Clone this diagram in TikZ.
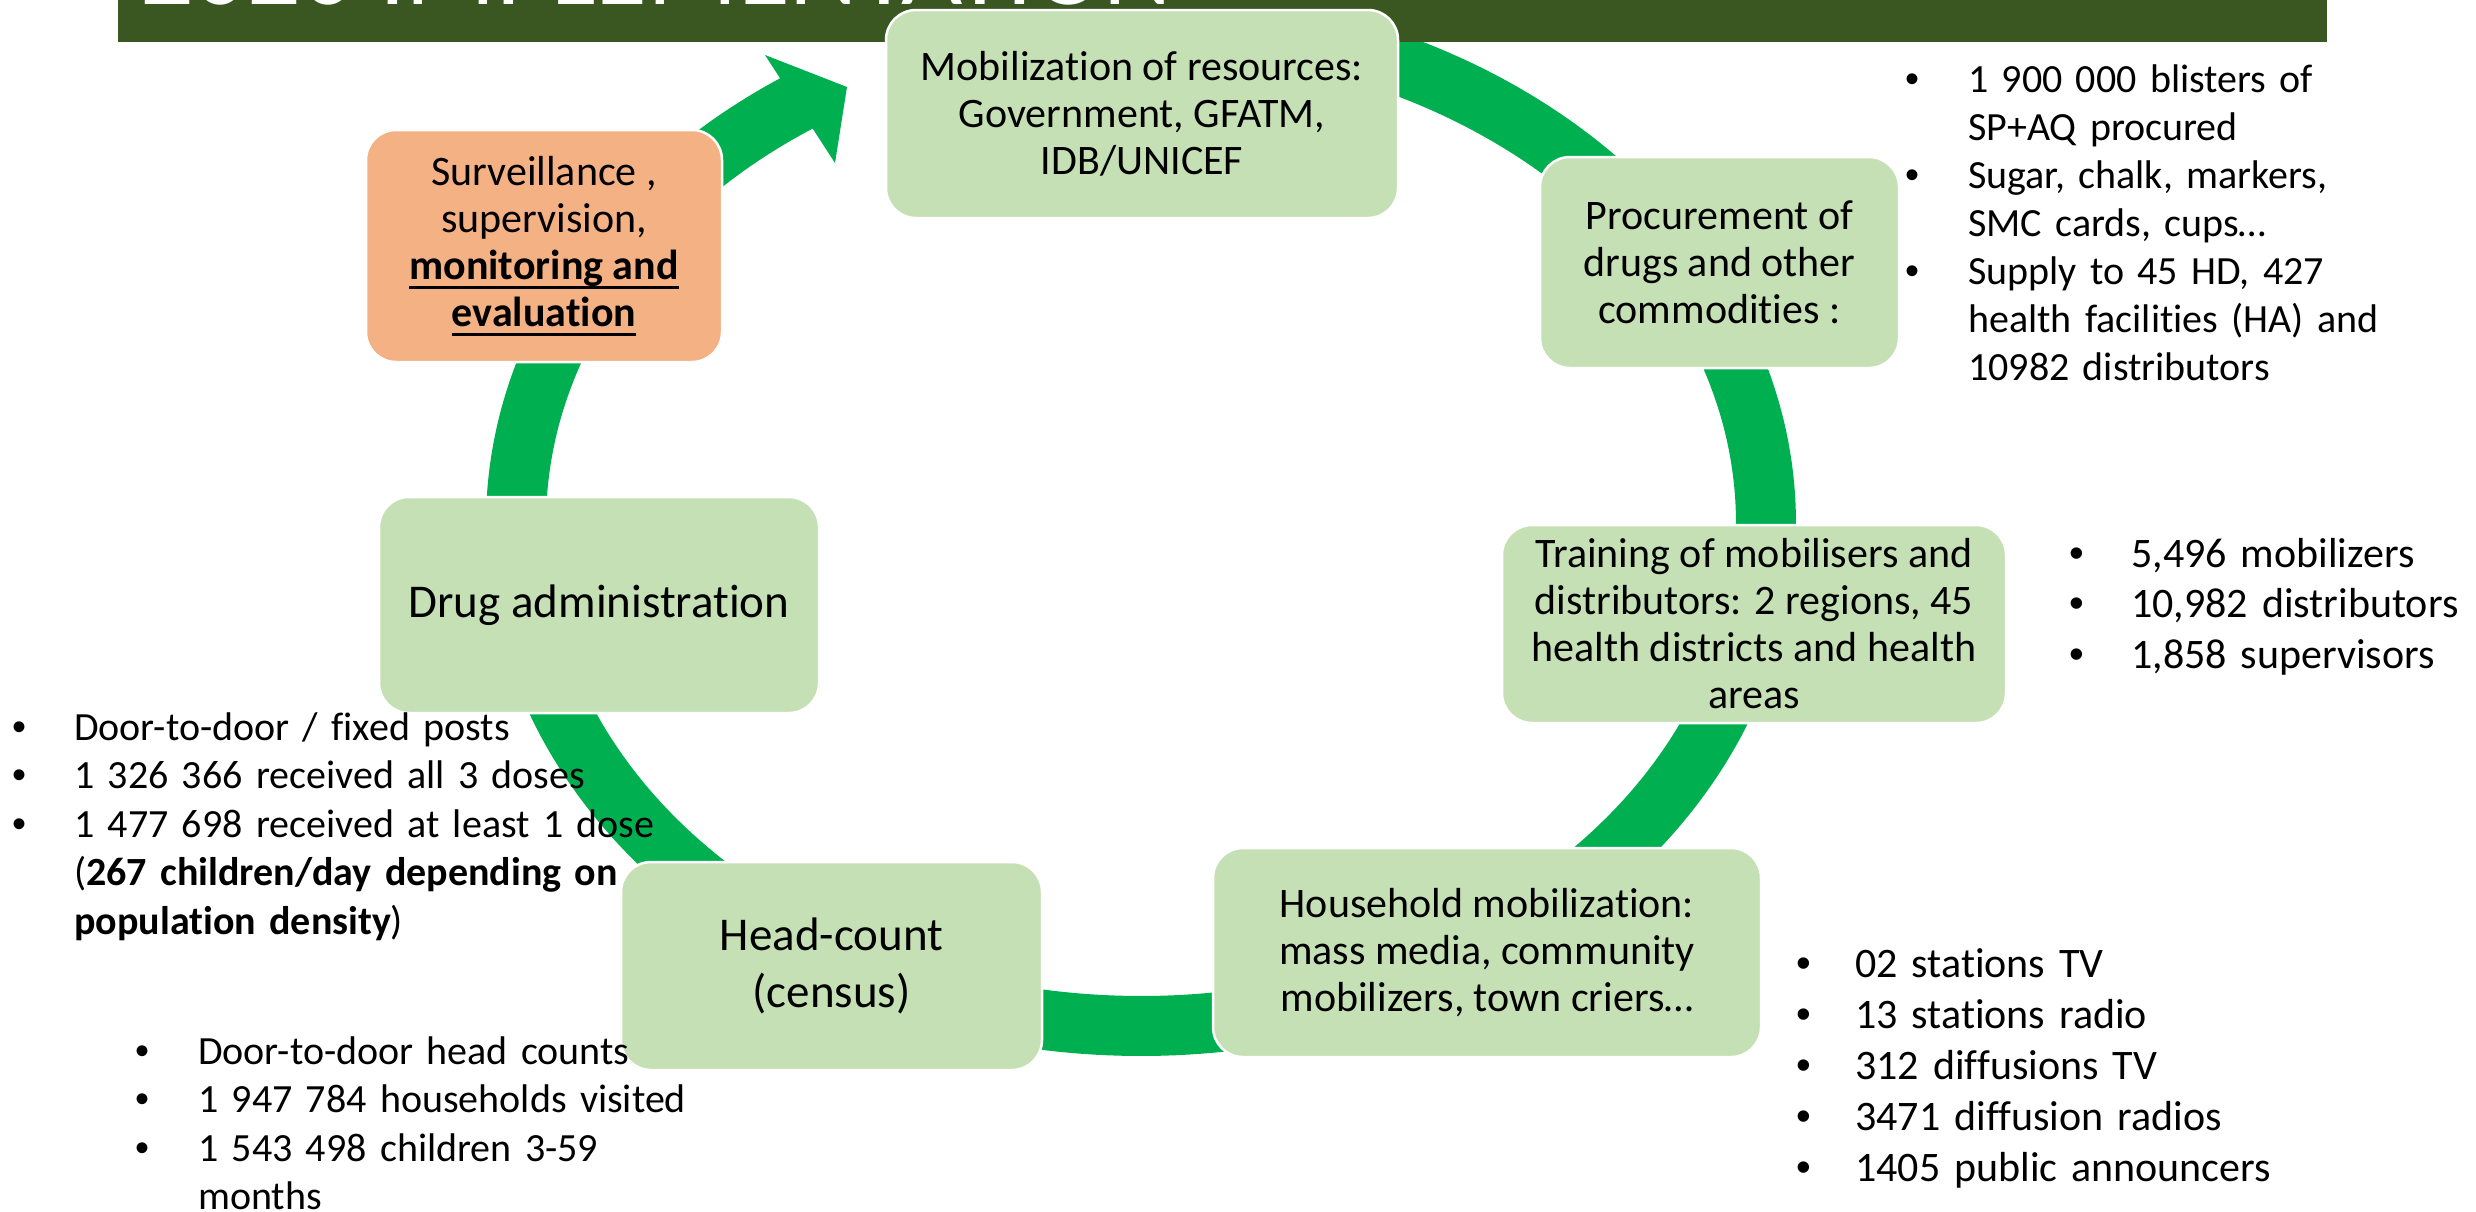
\documentclass[tikz,border=0pt]{standalone}
\usepackage{fontspec}
\setmainfont{Carlito}[Ligatures=NoCommon]
\newfontfamily\bulletfont{Liberation Sans}
\definecolor{bannergreen}{HTML}{3A5722}
\definecolor{ringgreen}{HTML}{00B050}
\definecolor{stagefill}{HTML}{C5E0B4}
\definecolor{alertfill}{HTML}{F4B183}
\newlength\bulind
\setlength\bulind{56pt}
% one bulleted entry: the bullet is centred on the left edge, the text hangs at \bulind
\newcommand\bitem[1]{\hangindent=\bulind\hangafter=1\noindent
  \makebox[\bulind][l]{\makebox[0pt][c]{\bulletfont\textbullet}}#1\par}
% heavy underline
\newcommand\undl[1]{\setbox0=\hbox{#1}\leavevmode\rlap{\rule[-9pt]{\wd0}{3pt}}\box0}
\begin{document}
\begin{tikzpicture}[x=1pt,y=-1pt,
  stage/.style={fill=stagefill, draw=white, line width=2.5pt, rounded corners=30pt,
    align=center, inner sep=0pt, font=\fontsize{42}{47}\selectfont},
  notes/.style={anchor=base west, inner sep=0pt, text width=760pt}]

\useasboundingbox (0,0) rectangle (2476,1211);
\fill[white] (0,0) rectangle (2476,1211);

% circular flow band with its arrow head
\fill[ringgreen]
  plot[domain=-237:108, samples=300, variable=\t] ({1141+655*cos(\t)},{523-533*sin(\t)})
  -- plot[domain=-237:108, samples=300, variable=\t] ({1141+595*cos(-129-\t)},{523-473*sin(-129-\t)})
  -- cycle;
\fill[ringgreen] (765,55) -- (847,87) -- (835,163) -- cycle;

% title banner
\fill[bannergreen] (118,0) rectangle (2327,42);
\begin{scope}
  \clip (118,0) rectangle (2327,42);
  \node[anchor=base west, inner sep=0pt, text=white, font=\fontsize{106}{120}\selectfont]
    (title) at (140,4) {2020 IMPLEMENTATION};
\end{scope}

% stages of the cycle
\node[stage, minimum width=512pt, minimum height=208pt] (mob) at (1142,114)
  {Mobilization of resources:\\Government, GFATM,\\IDB/UNICEF};
\node[stage, minimum width=359pt, minimum height=211pt] (proc) at (1719.5,262.5)
  {Procurement of\\drugs and other\\commodities :};
\node[stage, minimum width=504pt, minimum height=198pt] (train) at (1754,624)
  {Training of mobilisers and\\distributors: 2 regions, 45\\health districts and health\\areas};
\node[stage, minimum width=548pt, minimum height=209pt] (house) at (1487,952.5)
  {Household mobilization:\\mass media, community\\mobilizers, town criers…};
\node[stage, minimum width=421pt, minimum height=208pt, font=\fontsize{47}{57}\selectfont]
  (head) at (831.5,966) {Head-count\\(census)};
\node[stage, minimum width=440pt, minimum height=216pt, font=\fontsize{47}{57}\selectfont]
  (drug) at (599,605) {Drug administration};
\node[stage, fill=alertfill, minimum width=356pt, minimum height=232pt] (surv) at (544,246)
  {Surveillance ,\\supervision,\\\undl{\textbf{monitoring and}}\\\undl{\textbf{evaluation}}};

% figures attached to each stage
\node[notes, font={\fontsize{40}{48}\selectfont\setlength\bulind{56pt}}] (procnotes) at (1912,92)
  {\bitem{1 900 000 blisters of\newline SP+AQ procured}%
   \bitem{Sugar, chalk, markers,\newline SMC cards, cups…}%
   \bitem{Supply to 45 HD, 427\newline health facilities (HA) and\newline 10982 distributors}};
\node[notes, font={\fontsize{42}{50.5}\selectfont\setlength\bulind{54pt}}] (trainnotes) at (2077,567)
  {\bitem{5,496 mobilizers}\bitem{10,982 distributors}\bitem{1,858 supervisors}};
\node[notes, font={\fontsize{42}{51}\selectfont\setlength\bulind{51pt}}] (housenotes) at (1804,977)
  {\bitem{02 stations TV}\bitem{13 stations radio}\bitem{312 diffusions TV}%
   \bitem{3471 diffusion radios}\bitem{1405 public announcers}};
\node[notes, font={\fontsize{40}{48.5}\selectfont\setlength\bulind{55pt}}] (drugnotes) at (19,740)
  {\bitem{Door-to-door / fixed posts}\bitem{1 326 366 received all 3 doses}%
   \bitem{1 477 698 received at least 1 dose\newline(\textbf{267 children/day depending on}\newline\textbf{population density})}};
\node[notes, font={\fontsize{40}{48.5}\selectfont\setlength\bulind{56pt}}] (headnotes) at (142,1064)
  {\bitem{Door-to-door head counts}\bitem{1 947 784 households visited}%
   \bitem{1 543 498 children 3-59\newline months}};
\end{tikzpicture}
\end{document}
